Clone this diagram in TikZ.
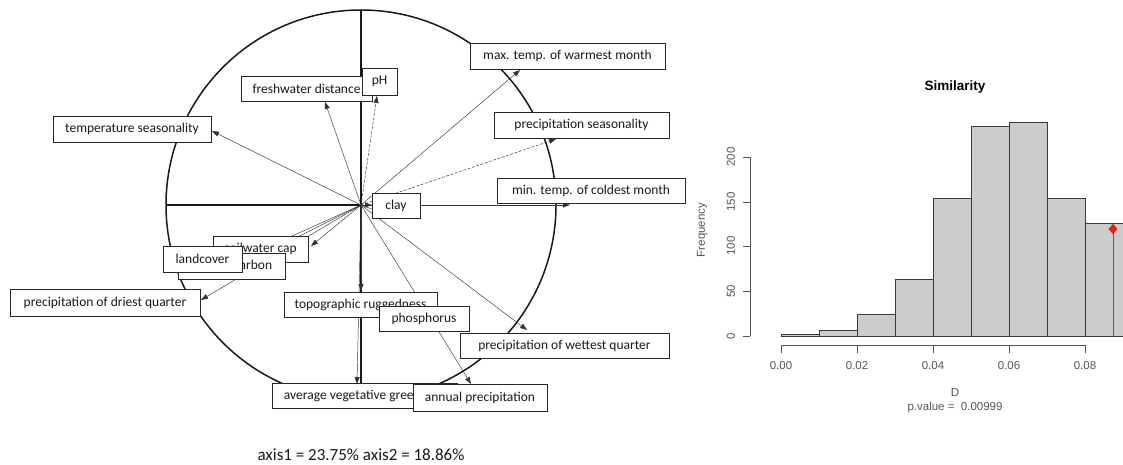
\documentclass[tikz,border=0pt]{standalone}
\usepackage{fontspec}
\setmainfont{Carlito}
\newfontfamily\rfont{Liberation Sans}
\usetikzlibrary{arrows.meta,shapes.geometric}
\definecolor{bargray}{HTML}{CCCCCC}
\definecolor{barline}{HTML}{3A3A3A}
\definecolor{axgray}{HTML}{555555}
\definecolor{rred}{HTML}{E8201A}
\begin{document}
\begin{tikzpicture}[x=1pt,y=-1pt,
  lbl/.style={draw=black!85,line width=0.9pt,fill=white,text=black!90,
    font=\fontsize{13.5}{15}\selectfont,inner sep=0pt,anchor=center},
  vec/.style={-{Triangle[length=7pt,width=5pt]},line width=0.45pt,black!80},
  dvec/.style={vec,dash pattern=on 3pt off 1.5pt},
  axisline/.style={line width=1.2pt,black!90},
  bar/.style={fill=bargray,draw=barline,line width=0.9pt},
  rtick/.style={font=\rfont\fontsize{11.5}{13}\selectfont,text=axgray},
]
\useasboundingbox (0,0) rectangle (1123,465);

% ---------------- correlation circle ----------------
\coordinate (O) at (361,205);
\draw[line width=1.5pt,black!90] (O) circle[radius=195];
\coordinate (axT) at (361,10);
\coordinate (axB) at (361,400);
\coordinate (axL) at (166,205);
\coordinate (axR) at (556,205);
\draw[axisline] (axT) -- (axB);
\draw[axisline] (axL) -- (O);

% arrow tips
\coordinate (tMaxT) at (520,70);
\coordinate (tFw) at (325,102);
\coordinate (tPH) at (377,96);
\coordinate (tTS) at (212,131);
\coordinate (tPS) at (556,139);
\coordinate (tMinT) at (570,205);
\coordinate (tClay) at (372,205);
\coordinate (tSw) at (311,246);
\coordinate (tOC) at (270,251);
\coordinate (tLC) at (230,264);
\coordinate (tPD) at (201,300);
\coordinate (tTopo) at (361,291);
\coordinate (tAVG) at (357,384);
\coordinate (tPhos) at (385,214);
\coordinate (tPW) at (527,330);
\coordinate (tAP) at (471,384);

\draw[vec] (O) -- (tMaxT);
\draw[vec] (O) -- (tFw);
\draw[dvec] (O) -- (tPH);
\draw[vec] (O) -- (tTS);
\draw[dvec] (O) -- (tPS);
\draw[vec] (O) -- (tMinT);
\draw[vec] (O) -- (tClay);
\draw[vec] (O) -- (tSw);
\draw[vec] (O) -- (tOC);
\draw[vec] (O) -- (tLC);
\draw[vec] (O) -- (tPD);
\draw[vec,line width=0.9pt] (O) -- (tTopo);
\draw[vec] (O) -- (tAVG);
\draw[vec] (O) -- (tPhos);
\draw[vec] (O) -- (tPW);
\draw[vec] (O) -- (tAP);

% labels
\node[lbl,minimum width=195,minimum height=26] (maxT) at (567.5,56) {max. temp. of warmest month};
\node[lbl,minimum width=131,minimum height=25] (fw) at (306.5,88.5) {freshwater distance};
\node[lbl,minimum width=35,minimum height=27] (ph) at (379.5,81.5) {pH};
\node[lbl,minimum width=158,minimum height=26] (ts) at (132,129) {temperature seasonality};
\node[lbl,minimum width=175,minimum height=26] (ps) at (581.5,125) {precipitation seasonality};
\node[lbl,minimum width=188,minimum height=25] (minT) at (591,190.5) {min. temp. of coldest month};
\node[lbl,minimum width=48,minimum height=25] (clay) at (396,205.5) {clay};
\node[lbl,minimum width=95,minimum height=26] (sw) at (260.5,249) {soilwater cap};
\node[lbl,minimum width=107,minimum height=26] (oc) at (231.5,266) {organic carbon};
\node[lbl,minimum width=79,minimum height=26] (lc) at (202.5,259) {landcover};
\node[lbl,minimum width=190,minimum height=27] (pd) at (105,302.5) {precipitation of driest quarter};
\node[lbl,minimum width=153,minimum height=25] (topo) at (360.5,304.5) {topographic ruggedness};
\node[lbl,minimum width=90,minimum height=25] (phos) at (424,318.5) {phosphorus};
\node[lbl,minimum width=209,minimum height=25] (pw) at (564.5,345.5) {precipitation of wettest quarter};
\node[lbl,minimum width=185,minimum height=25] (avg) at (364.5,396) {average vegetative greenness};
\node[lbl,minimum width=134,minimum height=27] (ap) at (480,397.5) {annual precipitation};

\node[font=\fontsize{17}{19}\selectfont,text=black!90] (eig) at (361,455) {axis1 = 23.75\% axis2 = 18.86\%};

% ---------------- histogram ----------------
\node[font=\rfont\bfseries\fontsize{13.5}{15}\selectfont] (title) at (955,87) {Similarity};
\foreach \xa/\ya in {781/334,819/330,857/314,895/279,933/198,971/126,1009/122,1047/198,1085/223}{
  \draw[bar] (\xa,336) rectangle (\xa+38,\ya);
}
% y axis
\draw[axgray,line width=0.8pt] (750,336) -- (750,157);
\foreach \yy/\lab in {336/0,291/50,246/100,202/150,157/200}{
  \draw[axgray,line width=0.8pt] (750,\yy) -- (743,\yy);
  \node[rtick,rotate=90] at (731,\yy) {\lab};
}
\node[rtick,rotate=90] (freq) at (702,230) {Frequency};
% x axis
\draw[axgray,line width=0.8pt] (781,345) -- (1085,345);
\foreach \xx/\lab in {781/0.00,857/0.02,933/0.04,1009/0.06,1085/0.08}{
  \draw[axgray,line width=0.8pt] (\xx,345) -- (\xx,353);
  \node[rtick] at (\xx,366) {\lab};
}
\node[rtick] (dlab) at (955,393) {D};
\node[rtick] (pval) at (955,408) {p.value =\ \ 0.00999};
% observed value
\coordinate (obsB) at (1113,336);
\node[diamond,fill=rred,inner sep=0pt,minimum width=9pt,minimum height=10pt] (obs) at (1113,229) {};
\draw[rred,line width=0.8pt] (obsB) -- (obs.center);
\node[diamond,fill=rred,inner sep=0pt,minimum width=9pt,minimum height=10pt] at (1113,229) {};
\end{tikzpicture}
\end{document}
